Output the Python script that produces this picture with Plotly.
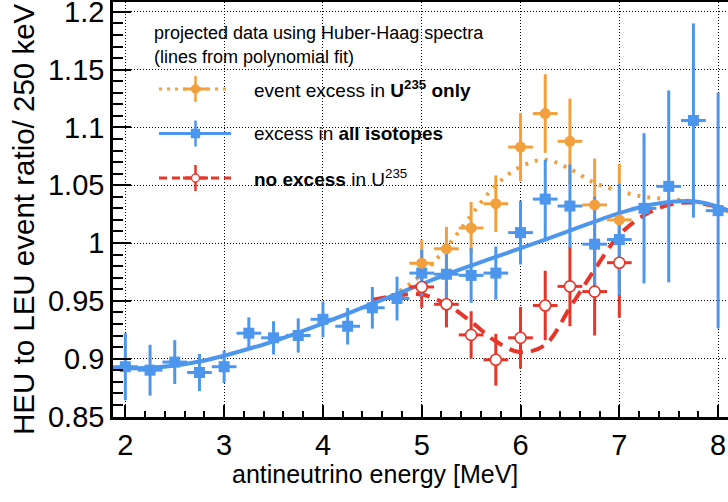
import plotly.graph_objects as go

# ---------------- data ----------------
energy_all = [2.0, 2.25, 2.5, 2.75, 3.0, 3.25, 3.5, 3.75, 4.0, 4.25, 4.5, 4.75,
              5.0, 5.25, 5.5, 5.75, 6.0, 6.25, 6.5, 6.75, 7.0, 7.25, 7.5, 7.75, 8.0]
ratio_all = [0.893, 0.890, 0.897, 0.888, 0.893, 0.922, 0.918, 0.920, 0.934, 0.928, 0.944, 0.952,
             0.974, 0.973, 0.972, 0.974, 1.009, 1.038, 1.032, 0.999, 1.003, 1.030, 1.049, 1.106, 1.028]
err_all = [0.029, 0.022, 0.019, 0.016, 0.014, 0.0137, 0.0144, 0.0148, 0.0155, 0.0158, 0.018, 0.019,
           0.020, 0.022, 0.0237, 0.023, 0.0276, 0.034, 0.036, 0.041, 0.048, 0.065, 0.083, 0.084, 0.102]

energy_sub = [5.0, 5.25, 5.5, 5.75, 6.0, 6.25, 6.5, 6.75, 7.0]
ratio_u235 = [0.9825, 0.995, 1.013, 1.034, 1.083, 1.112, 1.088, 1.033, 1.020]
err_u235 = [0.020, 0.019, 0.0225, 0.0245, 0.0295, 0.034, 0.037, 0.040, 0.0485]
ratio_none = [0.962, 0.947, 0.9205, 0.899, 0.918, 0.946, 0.9625, 0.958, 0.983]
err_none = [0.018, 0.020, 0.0205, 0.0224, 0.0266, 0.030, 0.0345, 0.038, 0.0475]

bin_half_width = 0.125

fit_all_x = [1.875, 2.0, 2.25, 2.5, 2.75, 3.0, 3.25, 3.5, 3.75, 4.0, 4.25, 4.5, 4.75, 5.0, 5.25,
             5.5, 5.75, 6.0, 6.25, 6.5, 6.75, 7.0, 7.25, 7.5, 7.75, 8.0, 8.1]
fit_all_y = [0.8915, 0.8915, 0.892, 0.894, 0.8975, 0.9025, 0.9085, 0.915, 0.9225, 0.9305, 0.939,
             0.9475, 0.956, 0.9645, 0.9728, 0.9805, 0.988, 0.9955, 1.003, 1.0107, 1.0185, 1.0258,
             1.0318, 1.0355, 1.0362, 1.0315, 1.028]
fit_sub_x = [4.5, 4.75, 5.0, 5.25, 5.5, 5.75, 6.0, 6.25, 6.5, 6.75, 7.0, 7.25, 7.5, 7.75, 8.0, 8.1]
fit_u235_y = [0.948, 0.957, 0.973, 0.996, 1.024, 1.050, 1.066, 1.072, 1.064, 1.052, 1.045, 1.040,
              1.038, 1.036, 1.031, 1.027]
fit_none_y = [0.951, 0.9545, 0.9555, 0.947, 0.932, 0.915, 0.9055, 0.912, 0.944, 0.977, 1.007, 1.024,
              1.033, 1.035, 1.031, 1.028]

x_tickvals = [2, 3, 4, 5, 6, 7, 8]
x_ticktext = ["2", "3", "4", "5", "6", "7", "8"]
y_tickvals = [0.85, 0.9, 0.95, 1.0, 1.05, 1.1, 1.15, 1.2]
y_ticktext = ["0.85", "0.9", "0.95", "1", "1.05", "1.1", "1.15", "1.2"]

# ---------------- style ----------------
ORANGE = "#F2A03D"
BLUE = "#4D96EE"
RED = "#E8352A"
FONT = "Liberation Sans, Arial, Helvetica, sans-serif"

fig = go.Figure()

# fitted curves (bottom layer)
fig.add_trace(go.Scatter(x=fit_sub_x, y=fit_u235_y, mode="lines", line_shape="spline",
                         line=dict(color=ORANGE, width=4, dash="3px,7px"), hoverinfo="skip"))
fig.add_trace(go.Scatter(x=fit_sub_x, y=fit_none_y, mode="lines", line_shape="spline",
                         line=dict(color=RED, width=4, dash="14px,8px"), hoverinfo="skip"))
fig.add_trace(go.Scatter(x=fit_all_x, y=fit_all_y, mode="lines", line_shape="spline",
                         line=dict(color=BLUE, width=4), hoverinfo="skip"))

# error bars (red, orange, blue on top)
def bars(x, y, e, color):
    return go.Scatter(x=x, y=y, mode="markers", marker=dict(size=1, opacity=0, color=color),
                      error_y=dict(type="data", array=e, color=color, thickness=3, width=0),
                      error_x=dict(type="constant", value=bin_half_width, color=color,
                                   thickness=3, width=0),
                      hoverinfo="skip")

fig.add_trace(bars(energy_sub, ratio_none, err_none, RED))
fig.add_trace(bars(energy_sub, ratio_u235, err_u235, ORANGE))
fig.add_trace(bars(energy_all, ratio_all, err_all, BLUE))

# markers
fig.add_trace(go.Scatter(x=energy_all, y=ratio_all, mode="markers",
                         marker=dict(symbol="square", size=11, color=BLUE, line=dict(width=0))))
fig.add_trace(go.Scatter(x=energy_sub, y=ratio_u235, mode="markers",
                         marker=dict(symbol="circle", size=11, color=ORANGE, line=dict(width=0))))
fig.add_trace(go.Scatter(x=energy_sub, y=ratio_none, mode="markers",
                         marker=dict(symbol="circle", size=11, color="white",
                                     line=dict(width=1.6, color=RED))))

# ---------------- custom legend ----------------
L, R, T, B = 113, 728, 2, 417
def px(xp):
    return (xp - L) / (R - L)
def py(yp):
    return (B - yp) / (B - T)

shapes = []
annotations = []
legend_rows = [
    (89, ORANGE, "3px,5px", "circle", ORANGE, "event excess in <b>U<sup>235</sup> only</b>"),
    (133.5, BLUE, "solid", "square", BLUE, "excess in <b>all isotopes</b>"),
    (178, RED, "8px,5px", "circle", "white", "<b>no excess</b> in U<sup>235</sup>"),
]
for yy, col, dash, sym, fill, label in legend_rows:
    shapes.append(dict(type="line", xref="paper", yref="paper", x0=px(159), x1=px(231),
                       y0=py(yy), y1=py(yy), line=dict(color=col, width=3, dash=dash)))
    shapes.append(dict(type="line", xref="paper", yref="paper", x0=px(183), x1=px(208),
                       y0=py(yy), y1=py(yy), line=dict(color=col, width=3)))
    shapes.append(dict(type="line", xref="paper", yref="paper", x0=px(195.5), x1=px(195.5),
                       y0=py(yy - 13), y1=py(yy + 13), line=dict(color=col, width=2.5)))
    shapes.append(dict(type="circle" if sym == "circle" else "rect", xref="paper", yref="paper",
                       xsizemode="pixel", ysizemode="pixel", xanchor=px(195.5), yanchor=py(yy),
                       x0=-4, x1=4, y0=-4, y1=4, fillcolor=fill,
                       line=dict(color=col, width=1.3)))
    annotations.append(dict(xref="paper", yref="paper", x=px(252), y=py(yy), xanchor="left",
                            yanchor="middle", showarrow=False, text=label,
                            font=dict(family=FONT, size=19, color="black")))

annotations.append(dict(xref="paper", yref="paper", x=px(152), y=py(33), xanchor="left",
                        yanchor="middle", showarrow=False,
                        text="projected data using Huber-Haag spectra",
                        font=dict(family=FONT, size=18, color="black")))
annotations.append(dict(xref="paper", yref="paper", x=px(152), y=py(57), xanchor="left",
                        yanchor="middle", showarrow=False,
                        text="(lines from polynomial fit)",
                        font=dict(family=FONT, size=18, color="black")))

# axis titles
annotations.append(dict(xref="paper", yref="paper", x=px(375), y=py(474), xanchor="center",
                        yanchor="middle", showarrow=False, text="antineutrino energy [MeV]",
                        font=dict(family=FONT, size=25, color="black")))
annotations.append(dict(xref="paper", yref="paper", x=px(24), y=py(219), xanchor="center",
                        yanchor="middle", showarrow=False, textangle=-90,
                        text="HEU to LEU event ratio/ 250 keV",
                        font=dict(family=FONT, size=29.5, color="black")))

fig.update_layout(
    template="none",
    width=728, height=502,
    margin=dict(l=L, r=728 - R, t=T, b=502 - B, pad=0),
    paper_bgcolor="white", plot_bgcolor="white",
    showlegend=False,
    shapes=shapes, annotations=annotations,
    font=dict(family=FONT, color="black"),
    xaxis=dict(range=[1.875, 8.1], tickmode="array", tickvals=x_tickvals, ticktext=x_ticktext,
               automargin=False, ticklabeloverflow="allow",
               ticks="inside", ticklen=12, tickwidth=2, tickcolor="black",
               minor=dict(tick0=2, dtick=0.2, ticks="inside", ticklen=6, tickwidth=1.5,
                          tickcolor="black", showgrid=False),
               showgrid=True, gridcolor="black", gridwidth=1, griddash="1px,2px",
               showline=True, linecolor="black", linewidth=2.5, mirror=True,
               zeroline=False, tickfont=dict(family=FONT, size=29, color="black")),
    yaxis=dict(range=[0.8495, 1.2085], tickmode="array", tickvals=y_tickvals, ticktext=y_ticktext,
               automargin=False, ticklabeloverflow="allow",
               ticks="inside", ticklen=18, tickwidth=2, tickcolor="black",
               minor=dict(tick0=0.85, dtick=0.01, ticks="inside", ticklen=10, tickwidth=1.5,
                          tickcolor="black", showgrid=False),
               showgrid=True, gridcolor="black", gridwidth=1, griddash="1px,2px",
               showline=True, linecolor="black", linewidth=2.5, mirror=False,
               zeroline=False, tickfont=dict(family=FONT, size=29, color="black")),
)

fig.write_html("out.html")
